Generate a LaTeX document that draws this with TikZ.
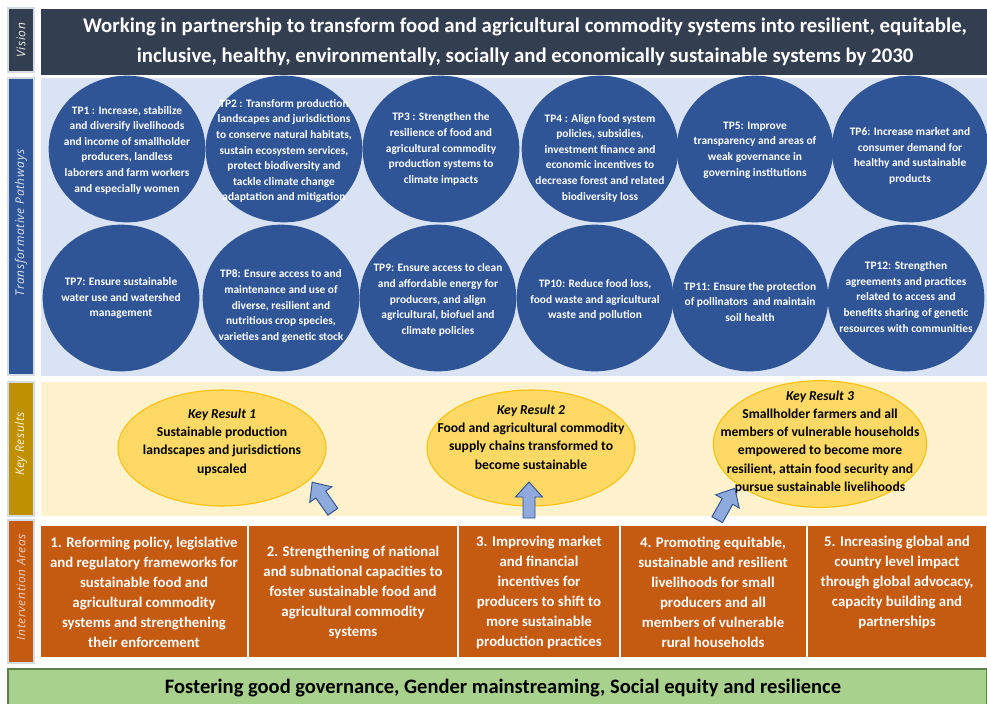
\documentclass[tikz,border=0pt]{standalone}
\usepackage{fontspec}
\setmainfont{Carlito}
\newfontfamily\labelfont[LetterSpace=5]{Open Sans}
\usetikzlibrary{shapes.geometric}
\definecolor{visdark}{HTML}{333F50}
\definecolor{tpblue}{HTML}{2F5597}
\definecolor{tpbg}{HTML}{DAE3F3}
\definecolor{krgold}{HTML}{BF9000}
\definecolor{krbg}{HTML}{FFF2CC}
\definecolor{krfill}{HTML}{FFD966}
\definecolor{krline}{HTML}{FFC000}
\definecolor{iaorange}{HTML}{C55A11}
\definecolor{basegreen}{HTML}{A9D18E}
\definecolor{baseline}{HTML}{5E7F4A}
\definecolor{arrfill}{HTML}{8FAADC}
\definecolor{arrline}{HTML}{2F528F}
\definecolor{sideedge}{HTML}{D6DCE5}
\tikzset{
  sidebox/.style={draw=sideedge, line width=0.8pt},
  sidelabel/.style={rotate=90, font=\labelfont\itshape\fontsize{9}{10}\selectfont},
  vistext/.style={text=white, align=center, font=\bfseries\fontsize{15.6}{22.5}\selectfont},
  tpcirc/.style={ellipse, fill=tpblue, minimum width=117.5pt, minimum height=110pt, inner sep=0pt},
  tptext/.style={text=white, align=center, font=\bfseries\fontsize{8.55}{11.7}\selectfont},
  krell/.style={ellipse, fill=krfill, draw=krline, line width=0.8pt, inner sep=0pt},
  krtext/.style={text=black, align=center, font=\bfseries\fontsize{10.2}{13.7}\selectfont},
  iabox/.style={fill=iaorange, draw=white, line width=1pt},
  iatext/.style={text=white, align=center, font=\bfseries\fontsize{11.1}{15}\selectfont},
  blockarr/.style={fill=arrfill, draw=arrline, line width=0.7pt, line join=miter},
  basetext/.style={text=black, font=\bfseries\fontsize{15.4}{18}\selectfont}
}
\begin{document}
\begin{tikzpicture}[x=0.75pt,y=-0.75pt]
\useasboundingbox (0,0) rectangle (987,703);
\fill[white] (0,0) rectangle (987,703);
% ---------- Vision ----------
\fill[sidebox, fill=visdark] (8,8) rectangle (34,72);
\node[sidelabel, text=white!85!gray] (lvision) at (21,40) {Vision};
\fill[visdark] (41,9) rectangle (987,75);
\node[vistext] (vision) at (525,42) {Working in partnership to transform food and agricultural commodity systems into resilient, equitable,\\inclusive, healthy, environmentally, socially and economically sustainable systems by 2030};
% ---------- Transformative Pathways ----------
\fill[sidebox, fill=tpblue] (8,78) rectangle (34,375);
\node[sidelabel, text=tpbg] (ltp) at (21,223) {Transformative Pathways};
\fill[tpbg] (41,78) rectangle (987,376);
\node[tpcirc] (tp1) at (127,149) {};
\node[tpcirc] (tp2) at (284,149) {};
\node[tpcirc] (tp3) at (441,149) {};
\node[tpcirc] (tp4) at (600,149) {};
\node[tpcirc] (tp5) at (755,149) {};
\node[tpcirc] (tp6) at (910,149) {};
\node[tpcirc] (tp7) at (121,298) {};
\node[tpcirc] (tp8) at (281,298) {};
\node[tpcirc] (tp9) at (438,298) {};
\node[tpcirc] (tp10) at (595,298) {};
\node[tpcirc] (tp11) at (750,298) {};
\node[tpcirc] (tp12) at (906,298) {};
\node[tptext] (tp1t) at (127,150) {TP1 : Increase, stabilize\\and diversify livelihoods\\and income of smallholder\\producers, landless\\laborers and farm workers\\and especially women};
\node[tptext] (tp2t) at (284,151) {TP2 : Transform production\\landscapes and jurisdictions\\to conserve natural habitats,\\sustain ecosystem services,\\protect biodiversity and\\tackle climate change\\adaptation and mitigation};
\node[tptext] (tp3t) at (441,149) {TP3 : Strengthen the\\resilience of food and\\agricultural commodity\\production systems to\\climate impacts};
\node[tptext] (tp4t) at (600,158) {TP4 : Align food system\\policies, subsidies,\\investment finance and\\economic incentives to\\decrease forest and related\\biodiversity loss};
\node[tptext] (tp5t) at (755,150) {TP5: Improve\\transparency and areas of\\weak governance in\\governing institutions};
\node[tptext] (tp6t) at (910,156) {TP6: Increase market and\\consumer demand for\\healthy and sustainable\\products};
\node[tptext] (tp7t) at (121,298) {TP7: Ensure sustainable\\water use and watershed\\management};
\node[tptext] (tp8t) at (281,306) {TP8: Ensure access to and\\maintenance and use of\\diverse, resilient and\\nutritious crop species,\\varieties and genetic stock};
\node[tptext] (tp9t) at (438,300) {TP9: Ensure access to clean\\and affordable energy for\\producers, and align\\agricultural, biofuel and\\climate policies};
\node[tptext] (tp10t) at (595,300) {TP10: Reduce food loss,\\food waste and agricultural\\waste and pollution};
\node[tptext] (tp11t) at (750,302) {TP11: Ensure the protection\\of pollinators\ \ and maintain\\soil health};
\node[tptext] (tp12t) at (906,297) {TP12: Strengthen\\agreements and practices\\related to access and\\benefits sharing of genetic\\resources with communities};
% ---------- Key Results ----------
\fill[sidebox, fill=krgold] (8,382) rectangle (34,516);
\node[sidelabel, text=krbg] (lkr) at (21,444) {Key Results};
\fill[krbg] (41,382) rectangle (987,516);
\node[krell, minimum width=156pt, minimum height=87pt] (kr1) at (222,448) {};
\node[krell, minimum width=156pt, minimum height=87pt] (kr2) at (531,448) {};
\node[krell, minimum width=160pt, minimum height=95pt] (kr3) at (820,444) {};
\node[krtext] (kr1t) at (222,442) {\textit{Key Result 1}\\Sustainable production\\landscapes and jurisdictions\\upscaled};
\node[krtext] (kr2t) at (531,437) {\textit{Key Result 2}\\Food and agricultural commodity\\supply chains transformed to\\become sustainable};
\node[krtext] (kr3t) at (820,442) {\textit{Key Result 3}\\Smallholder farmers and all\\members of vulnerable households\\empowered to become more\\resilient, attain food security and\\pursue sustainable livelihoods};
% block arrows
\begin{scope}[shift={(322.5,497)}, rotate=125]
\draw[blockarr] (-18,-6) -- (3,-6) -- (3,-13.5) -- (18,0) -- (3,13.5) -- (3,6) -- (-18,6) -- cycle;
\end{scope}
\begin{scope}[shift={(529,500)}, rotate=90]
\draw[blockarr] (-18,-6) -- (3,-6) -- (3,-13.5) -- (18,0) -- (3,13.5) -- (3,6) -- (-18,6) -- cycle;
\end{scope}
\begin{scope}[shift={(726,504)}, rotate=60.6]
\draw[blockarr] (-18,-6) -- (3,-6) -- (3,-13.5) -- (18,0) -- (3,13.5) -- (3,6) -- (-18,6) -- cycle;
\end{scope}
% ---------- Intervention Areas ----------
\fill[sidebox, fill=iaorange] (8,520) rectangle (34,663);
\node[sidelabel, text=iaorange!30!white] (lia) at (21,587) {Intervention Areas};
\path[iabox] (40,525) rectangle (248,658);
\path[iabox] (248,525) rectangle (458,658);
\path[iabox] (458,525) rectangle (620,658);
\path[iabox] (620,525) rectangle (807,658);
\path[iabox] (807,525) rectangle (987,658);
\node[iatext] (ia1) at (144,592) {1. Reforming policy, legislative\\and regulatory frameworks for\\sustainable food and\\agricultural commodity\\systems and strengthening\\their enforcement};
\node[iatext] (ia2) at (353,592) {2. Strengthening of national\\and subnational capacities to\\foster sustainable food and\\agricultural commodity\\systems};
\node[iatext] (ia3) at (539,592) {3. Improving market\\and financial\\incentives for\\producers to shift to\\more sustainable\\production practices};
\node[iatext] (ia4) at (713,592) {4. Promoting equitable,\\sustainable and resilient\\livelihoods for small\\producers and all\\members of vulnerable\\rural households};
\node[iatext] (ia5) at (897,582) {5. Increasing global and\\country level impact\\through global advocacy,\\capacity building and\\partnerships};
% ---------- Base ----------
\path[fill=basegreen, draw=baseline, line width=1pt] (8,669) rectangle (987,712);
\node[basetext] (base) at (503,688) {Fostering good governance, Gender mainstreaming, Social equity and resilience};
\end{tikzpicture}
\end{document}
